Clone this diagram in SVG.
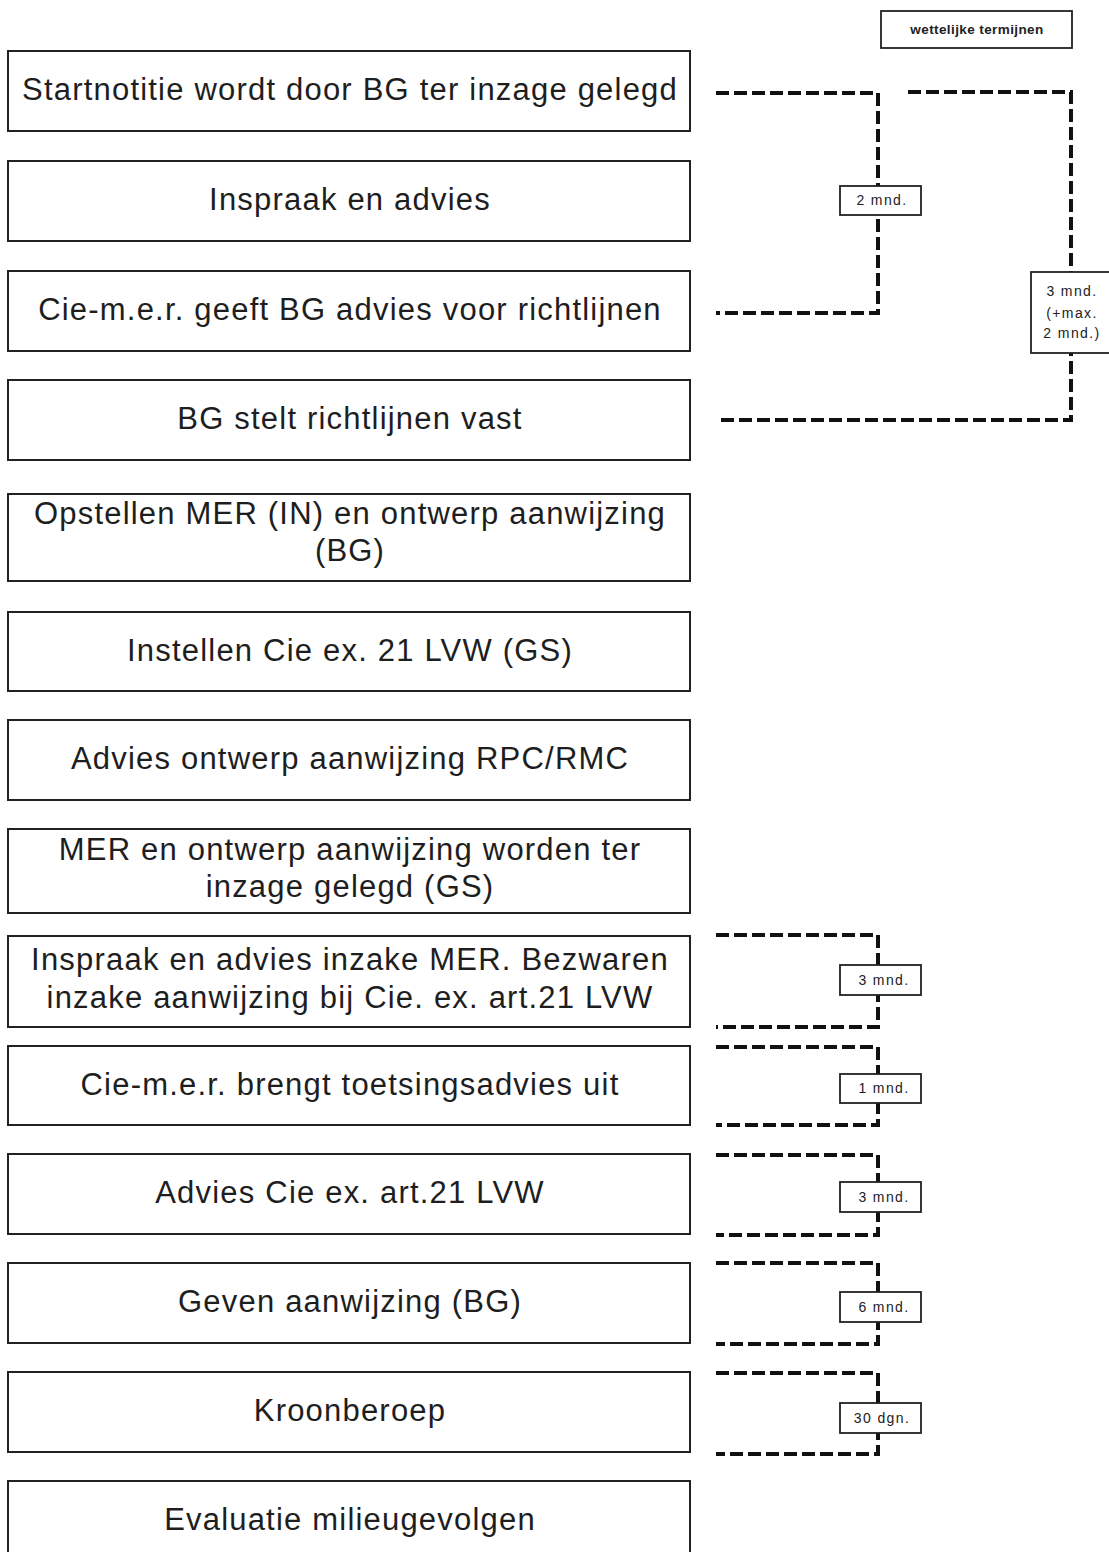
<svg xmlns="http://www.w3.org/2000/svg" width="1109" height="1552" viewBox="0 0 1109 1552">
<style>
.box{fill:#fff;stroke:#222;stroke-width:2}
.t{font-family:"Liberation Sans",Arial,sans-serif;font-size:31px;letter-spacing:1.2px;fill:#1e1e1e;text-anchor:middle}
.lab{fill:#fff;stroke:#222;stroke-width:1.8}
.lt{font-family:"Liberation Sans",Arial,sans-serif;font-size:14px;letter-spacing:1.4px;fill:#222;text-anchor:middle}
.dash{fill:none;stroke:#111;stroke-width:4;stroke-dasharray:13 5}
</style>
<rect width="1109" height="1552" fill="#fff"/>
<g id="legend">
<rect class="lab" x="881" y="11" width="191" height="37"/>
<text x="977" y="34" font-family="Liberation Sans, Arial, sans-serif" font-size="13.5" font-weight="bold" letter-spacing="0.4" fill="#222" text-anchor="middle">wettelijke termijnen</text>
</g>
<g id="connectors">
<path class="dash" d="M716 93 H878 V313 H716"/>
<path class="dash" d="M908 92 H1071 V420 H716"/>
<path class="dash" d="M716 935 H878 V1027 H716"/>
<path class="dash" d="M716 1047 H878 V1125 H716"/>
<path class="dash" d="M716 1155 H878 V1235 H716"/>
<path class="dash" d="M716 1263 H878 V1344 H716"/>
<path class="dash" d="M716 1373 H878 V1454 H716"/>
</g>
<g id="lbl1"><rect class="lab" x="840" y="186" width="81" height="29"/><text class="lt" x="882" y="205">2 mnd.</text></g>
<g id="lbl2"><rect class="lab" x="1031" y="272" width="82" height="81"/><text class="lt" x="1072" y="296">3 mnd.</text><text class="lt" x="1072" y="318">(+max.</text><text class="lt" x="1072" y="338">2 mnd.)</text></g>
<g id="lbl3"><rect class="lab" x="840" y="965" width="81" height="30"/><text class="lt" x="884" y="985">3 mnd.</text></g>
<g id="lbl4"><rect class="lab" x="840" y="1074" width="81" height="29"/><text class="lt" x="884" y="1093">1 mnd.</text></g>
<g id="lbl5"><rect class="lab" x="840" y="1182" width="81" height="30"/><text class="lt" x="884" y="1202">3 mnd.</text></g>
<g id="lbl6"><rect class="lab" x="840" y="1292" width="81" height="30"/><text class="lt" x="884" y="1312">6 mnd.</text></g>
<g id="lbl7"><rect class="lab" x="840" y="1403" width="81" height="30"/><text class="lt" x="882" y="1423">30 dgn.</text></g>
<g id="n1"><rect class="box" x="8" y="51" width="682" height="80"/><text class="t" x="350" y="100">Startnotitie wordt door BG ter inzage gelegd</text></g>
<g id="n2"><rect class="box" x="8" y="161" width="682" height="80"/><text class="t" x="350" y="210">Inspraak en advies</text></g>
<g id="n3"><rect class="box" x="8" y="271" width="682" height="80"/><text class="t" x="350" y="320">Cie-m.e.r. geeft  BG advies voor richtlijnen</text></g>
<g id="n4"><rect class="box" x="8" y="380" width="682" height="80"/><text class="t" x="350" y="429">BG stelt richtlijnen vast</text></g>
<g id="n5"><rect class="box" x="8" y="494" width="682" height="87"/><text class="t" x="350" y="524">Opstellen MER (IN) en ontwerp aanwijzing</text><text class="t" x="350" y="561">(BG)</text></g>
<g id="n6"><rect class="box" x="8" y="612" width="682" height="79"/><text class="t" x="350" y="661">Instellen Cie ex. 21  LVW (GS)</text></g>
<g id="n7"><rect class="box" x="8" y="720" width="682" height="80"/><text class="t" x="350" y="769">Advies ontwerp aanwijzing  RPC/RMC</text></g>
<g id="n8"><rect class="box" x="8" y="829" width="682" height="84"/><text class="t" x="350" y="860">MER en ontwerp aanwijzing worden ter</text><text class="t" x="350" y="897">inzage gelegd (GS)</text></g>
<g id="n9"><rect class="box" x="8" y="936" width="682" height="91"/><text class="t" x="350" y="970">Inspraak en advies inzake MER. Bezwaren</text><text class="t" x="350" y="1008">inzake aanwijzing bij Cie. ex. art.21 LVW</text></g>
<g id="n10"><rect class="box" x="8" y="1046" width="682" height="79"/><text class="t" x="350" y="1095">Cie-m.e.r. brengt toetsingsadvies uit</text></g>
<g id="n11"><rect class="box" x="8" y="1154" width="682" height="80"/><text class="t" x="350" y="1203">Advies Cie ex. art.21 LVW</text></g>
<g id="n12"><rect class="box" x="8" y="1263" width="682" height="80"/><text class="t" x="350" y="1312">Geven aanwijzing (BG)</text></g>
<g id="n13"><rect class="box" x="8" y="1372" width="682" height="80"/><text class="t" x="350" y="1421">Kroonberoep</text></g>
<g id="n14"><rect class="box" x="8" y="1481" width="682" height="90"/><text class="t" x="350" y="1530">Evaluatie milieugevolgen</text></g>
</svg>
